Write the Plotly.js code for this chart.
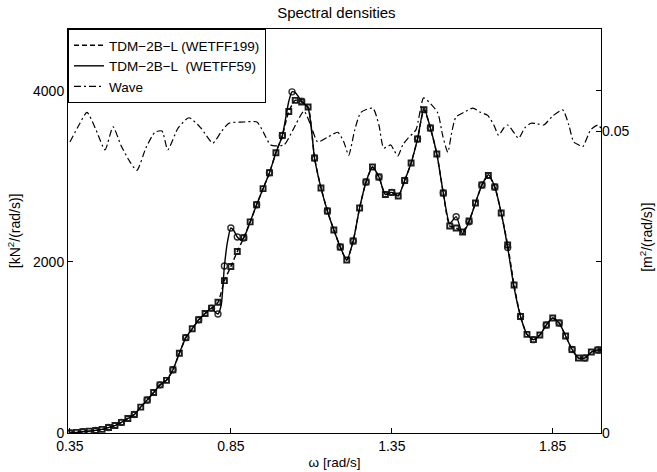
<!DOCTYPE html>
<html>
<head>
<meta charset="utf-8">
<script src="https://cdn.plot.ly/plotly-3.0.1.min.js"></script>
<style>html,body{margin:0;padding:0;background:#fff;}#chart{width:657px;height:472px;}</style>
</head>
<body>
<div id="chart"></div>
<script>
// WETFF199 (dashed) spectral density [kN^2/(rad/s)]
const omega199 = [0.35,0.37,0.39,0.41,0.43,0.45,0.47,0.49,0.51,0.53,0.55,0.57,0.59,0.61,0.63,0.65,0.67,0.69,0.71,0.73,0.75,0.77,0.79,0.81,0.83,0.85,0.87,0.89,0.91,0.93,0.95,0.97,0.99,1.01,1.03,1.05,1.07,1.09,1.11,1.13,1.15,1.17,1.19,1.21,1.23,1.25,1.27,1.29,1.31,1.33,1.35,1.37,1.39,1.41,1.43,1.45,1.47,1.49,1.51,1.53,1.55,1.57,1.59,1.61,1.63,1.65,1.67,1.69,1.71,1.73,1.75,1.77,1.79,1.81,1.83,1.85,1.87,1.89,1.91,1.93,1.95,1.97,1.99,2.00];
const s199 = [0,7,15,22,30,42,64,87,124,170,216,303,386,473,563,616,740,932,1115,1219,1324,1398,1460,1529,1782,1947,2122,2285,2469,2669,2858,3044,3278,3480,3760,3890,3871,3813,3216,2866,2597,2374,2175,2023,2245,2632,2936,3111,2994,2790,2814,2772,2953,3158,3439,3781,3567,3263,2807,2421,2398,2351,2480,2690,2901,3012,2877,2573,2199,1731,1363,1154,1092,1146,1263,1345,1286,1135,977,877,877,947,971,971];

// WETFF59 (solid) spectral density [kN^2/(rad/s)]
const omega59 = [0.35,0.37,0.39,0.41,0.43,0.45,0.47,0.49,0.51,0.53,0.55,0.57,0.59,0.61,0.63,0.65,0.67,0.69,0.71,0.73,0.75,0.77,0.79,0.80,0.81,0.82,0.83,0.84,0.85,0.86,0.87,0.88,0.89,0.91,0.93,0.95,0.97,0.99,1.01,1.03,1.04,1.05,1.07,1.09,1.11,1.13,1.15,1.17,1.19,1.21,1.23,1.25,1.27,1.29,1.31,1.33,1.35,1.37,1.39,1.41,1.43,1.45,1.47,1.49,1.51,1.53,1.55,1.57,1.59,1.61,1.63,1.65,1.67,1.69,1.71,1.73,1.75,1.77,1.79,1.81,1.83,1.85,1.87,1.89,1.91,1.93,1.95,1.97,1.99,2.00];
const s59 = [0,7,15,22,30,42,64,87,124,170,216,303,386,473,563,616,740,932,1115,1219,1324,1398,1460,1420,1392,1497,1953,2246,2398,2363,2292,2257,2280,2469,2669,2858,3044,3278,3480,3880,3990,3980,3880,3800,3216,2866,2597,2374,2175,2023,2245,2632,2936,3111,2994,2790,2814,2772,2953,3158,3439,3800,3567,3263,2807,2450,2530,2330,2470,2690,2901,3020,2877,2573,2170,1700,1363,1154,1092,1146,1263,1345,1286,1135,977,877,877,947,971,971];

// Wave spectral density [m^2/(rad/s)]
const omegaWave = [0.350,0.378,0.403,0.431,0.459,0.484,0.508,0.533,0.558,0.586,0.614,0.636,0.654,0.686,0.720,0.757,0.794,0.819,0.844,0.890,0.931,0.952,0.974,1.015,1.043,1.077,1.098,1.120,1.151,1.182,1.201,1.216,1.235,1.254,1.291,1.310,1.325,1.347,1.356,1.369,1.384,1.400,1.425,1.449,1.471,1.493,1.508,1.524,1.536,1.549,1.574,1.602,1.626,1.648,1.667,1.682,1.698,1.710,1.729,1.744,1.763,1.782,1.803,1.822,1.850,1.881,1.900,1.915,1.931,1.943,1.968,1.990,2.000];
const sWave = [0.0482,0.0510,0.0531,0.0502,0.0469,0.0507,0.0477,0.0452,0.0435,0.0472,0.0498,0.0500,0.0469,0.0505,0.0522,0.0505,0.0480,0.0498,0.0513,0.0515,0.0515,0.0497,0.0477,0.0477,0.0502,0.0533,0.0510,0.0482,0.0490,0.0498,0.0482,0.0460,0.0502,0.0531,0.0538,0.0510,0.0472,0.0477,0.0469,0.0459,0.0477,0.0488,0.0502,0.0555,0.0545,0.0530,0.0493,0.0465,0.0497,0.0523,0.0531,0.0538,0.0531,0.0526,0.0510,0.0493,0.0505,0.0510,0.0498,0.0488,0.0505,0.0513,0.0512,0.0510,0.0525,0.0535,0.0510,0.0482,0.0477,0.0474,0.0502,0.0510,0.0505];

const legendNames = ['TDM\u22122B\u2212L (WETFF199)', 'TDM\u22122B\u2212L\u00a0 (WETFF59)', 'Wave'];
const xTicks = [0.35, 0.85, 1.35, 1.85];
const yTicks = [0, 2000, 4000];
const y2Ticks = [0, 0.05];

const FONT = 'Liberation Sans, Arial, Helvetica, sans-serif';

const traces = [
  {x: omega59, y: s59, mode: 'markers', type: 'scatter', showlegend: false, hoverinfo: 'skip',
   marker: {symbol: 'circle-open', size: 6, maxdisplayed: 45, color: '#333', line: {width: 1.4, color: '#333'}}},
  {x: omega199, y: s199, mode: 'markers', type: 'scatter', showlegend: false, hoverinfo: 'skip',
   marker: {symbol: 'square-open', size: 5, color: '#1e1e1e', line: {width: 1.9, color: '#1e1e1e'}}},
  {x: omega199, y: s199, mode: 'lines', type: 'scatter', name: legendNames[0],
   line: {color: '#000', width: 1.4, dash: '5px,3px', shape: 'spline', smoothing: 0.6}},
  {x: omega59, y: s59, mode: 'lines', type: 'scatter', name: legendNames[1],
   line: {color: '#000', width: 1.4, shape: 'spline', smoothing: 0.6}},
  {x: omegaWave, y: sWave, mode: 'lines', type: 'scatter', name: legendNames[2], yaxis: 'y2',
   line: {color: '#000', width: 1.2, dash: '7px,3px,2px,3px', shape: 'spline', smoothing: 0.6}}
];

const layout = {
  width: 657, height: 472,
  margin: {l: 68, r: 56, t: 29, b: 39},
  paper_bgcolor: '#fff', plot_bgcolor: '#fff',
  font: {family: FONT, size: 14, color: '#000'},
  title: {text: 'Spectral densities', x: 0.512, xanchor: 'center', y: 0.974, yanchor: 'middle', font: {family: FONT, size: 15, color: '#000'}},
  showlegend: true,
  legend: {x: 0, y: 1, xanchor: 'left', yanchor: 'top', bgcolor: '#fff', bordercolor: '#000', borderwidth: 1,
    font: {family: FONT, size: 13.5, color: '#000'}, tracegroupgap: 0, itemwidth: 30},
  xaxis: {range: [0.344, 2.0], tickvals: xTicks, ticktext: xTicks.map(v => v.toFixed(2)), ticks: 'inside', ticklen: 5,
    tickcolor: '#000', showline: true, linecolor: '#000', linewidth: 1, mirror: true, showgrid: false, zeroline: false,
    tickfont: {family: FONT, size: 14}, title: {text: '\u03c9 [rad/s]', standoff: 4, font: {family: FONT, size: 13.5}}},
  yaxis: {range: [0, 4725], tickvals: yTicks, ticks: 'inside', ticklen: 5, tickcolor: '#000', showline: true,
    linecolor: '#000', linewidth: 1, mirror: 'ticks', showgrid: false, zeroline: false,
    tickfont: {family: FONT, size: 14}},
  yaxis2: {range: [0, 0.0669], overlaying: 'y', side: 'right', tickvals: y2Ticks, ticktext: ['0', '0.05'], ticks: 'inside',
    ticklen: 5, tickcolor: '#000', showline: false, showgrid: false, zeroline: false,
    tickfont: {family: FONT, size: 14}},
  annotations: [
    {text: '[kN<sup>2</sup>/(rad/s)]', xref: 'paper', yref: 'paper', x: -0.101, y: 0.5, xanchor: 'center', yanchor: 'middle',
     textangle: -90, showarrow: false, font: {family: FONT, size: 14, color: '#000'}},
    {text: '[m<sup>2</sup>/(rad/s)]', xref: 'paper', yref: 'paper', x: 1.084, y: 0.485, xanchor: 'center', yanchor: 'middle',
     textangle: -90, showarrow: false, font: {family: FONT, size: 14, color: '#000'}}
  ]
};

Plotly.newPlot('chart', traces, layout, {staticPlot: true, displayModeBar: false});
</script>
</body>
</html>
